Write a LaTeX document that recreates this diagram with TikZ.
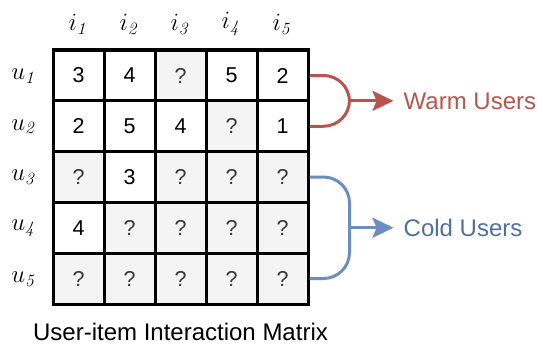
\documentclass[tikz,border=0pt]{standalone}
\usepackage[no-math]{fontspec}
\setmainfont{Liberation Sans}
\definecolor{warmRed}{HTML}{B85450}
\definecolor{coldBlue}{HTML}{6C8EBF}
\definecolor{coldText}{HTML}{4F6F9F}
\definecolor{cellGrey}{HTML}{F4F4F4}
\usepackage{tikz}
\usetikzlibrary{calc, positioning, arrows.meta}
\newcommand{\idxlabel}[2]{$#1_{\mathit{#2}}$}

\begin{document}
\begin{tikzpicture}[x=1pt, y=-1pt,
    cell/.style={draw=black, line width=3pt, minimum width=51pt, minimum height=51pt,
                 inner sep=0pt, font=\fontsize{21.5}{21.5}\selectfont},
    known/.style={cell, fill=white},
    unknown/.style={cell, fill=cellGrey, text=black!78},
    axislabel/.style={font=\fontsize{27}{27}\selectfont},
    bracket/.style={line width=3pt, rounded corners=26pt},
    arrow/.style={line width=3pt, -{Stealth[length=21pt, width=20pt, inset=4pt]}, shorten >=10pt},
    group/.style={font=\fontsize{24}{24}\selectfont, inner sep=0pt}]
  \useasboundingbox (0,0) rectangle (537,345);

  % rating matrix
  \foreach \row/\vals in {1/{3/known,4/known,?/unknown,5/known,2/known},
                          2/{2/known,5/known,4/known,?/unknown,1/known},
                          3/{?/unknown,3/known,?/unknown,?/unknown,?/unknown},
                          4/{4/known,?/unknown,?/unknown,?/unknown,?/unknown},
                          5/{?/unknown,?/unknown,?/unknown,?/unknown,?/unknown}} {
    \foreach \v/\kind [count=\col] in \vals {
      \node[\kind] (c-\row-\col) at ({78.5+51*(\col-1)}, {75.5+50.75*(\row-1)}) {\v};
    }
    \node[axislabel] (u-\row) at (24, {76+50.75*(\row-1)}) {\idxlabel{u}{\row}};
  }
  \foreach \col in {1,...,5} {
    \node[axislabel] (i-\col) at ({78.5+51*(\col-1)}, 24) {\idxlabel{i}{\col}};
  }

  % warm users
  \draw[bracket, warmRed] (c-1-5.east) -- ++(40,0) |- (c-2-5.east);
  \coordinate (warmKnee) at ($(c-1-5.east)!.5!(c-2-5.east)+(40,0)$);
  \node[group, warmRed, anchor=west] (warm) at ($(warmKnee)+(54,0)$) {Warm Users};
  \draw[arrow, warmRed] (warmKnee) -- (warm);

  % cold users
  \draw[bracket, coldBlue] (c-3-5.east) -- ++(40,0) |- (c-5-5.east);
  \coordinate (coldKnee) at ($(c-3-5.east)!.5!(c-5-5.east)+(40,0)$);
  \node[group, coldText, anchor=west] (cold) at ($(coldKnee)+(54,0)$) {Cold Users};
  \draw[arrow, coldBlue] (coldKnee) -- (cold);

  \node[group, below=17pt of c-5-3] (caption) {User-item Interaction Matrix};
\end{tikzpicture}
\end{document}
